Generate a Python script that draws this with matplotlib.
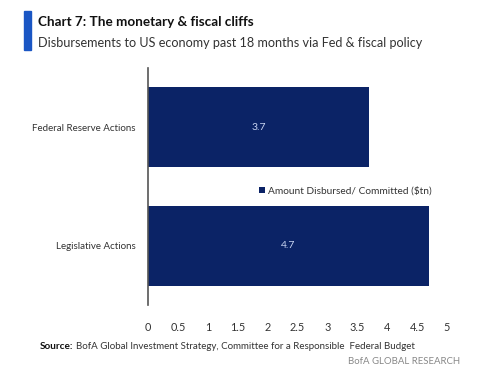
import matplotlib.pyplot as plt

plt.rcParams['font.family'] = ['Lato', 'DejaVu Sans']

categories = ['Legislative Actions', 'Federal Reserve Actions']
values = [4.7, 3.7]
xticks = [0, 0.5, 1, 1.5, 2, 2.5, 3, 3.5, 4, 4.5, 5]
xtick_labels = ['0', '0.5', '1', '1.5', '2', '2.5', '3', '3.5', '4', '4.5', '5']

navy = '#0b2366'

fig = plt.figure(figsize=(5, 3.73), dpi=100)
ax = fig.add_axes([0.296, 0.182, 0.598, 0.636])

bars = ax.barh(range(len(categories)), values, height=0.675, color=navy,
               label='Amount Disbursed/ Committed (\\$tn)')
for i, v in enumerate(values):
    ax.text(v / 2, i, f'{v}', ha='center', va='center', color='#c9d5f2', fontsize=7.5)

ax.set_xlim(0, 5)
ax.set_ylim(-0.5, 1.5)
ax.set_yticks(range(len(categories)))
ax.set_yticklabels(categories, fontsize=7.0, color='#333333')
ax.set_xticks(xticks)
ax.set_xticklabels(xtick_labels, fontsize=7.8, color='#333333')
ax.tick_params(axis='both', length=0)
ax.tick_params(axis='x', pad=12)
ax.tick_params(axis='y', pad=9)
for s in ['top', 'right', 'bottom']:
    ax.spines[s].set_visible(False)
ax.spines['left'].set_color('#555555')
ax.spines['left'].set_linewidth(1.2)

ax.legend(loc='center', bbox_to_anchor=(0.66, 0.482), frameon=False, fontsize=7.3,
          handlelength=0.6, handleheight=0.6, handletextpad=0.3, labelcolor='#333333')

# title block
fig.patches.append(plt.Rectangle((0.048, 0.866), 0.014, 0.105, transform=fig.transFigure,
                                 color='#1a56c4'))
fig.text(0.076, 0.941, 'Chart 7: The monetary & fiscal cliffs', fontsize=9.7,
         fontweight='bold', va='center', color='#111111')
fig.text(0.076, 0.885, 'Disbursements to US economy past 18 months via Fed & fiscal policy',
         fontsize=9.1, va='center', color='#333333')

fig.text(0.08, 0.072, 'Source:', fontsize=7.2, fontweight='bold', va='center', color='#111111')
fig.text(0.153, 0.072, 'BofA Global Investment Strategy, Committee for a Responsible  Federal Budget',
         fontsize=7.0, va='center', color='#333333')
fig.text(0.92, 0.03, 'BofA GLOBAL RESEARCH', fontsize=6.9, ha='right', va='center',
         color='#888888')

fig.savefig('out.png', dpi=100)
